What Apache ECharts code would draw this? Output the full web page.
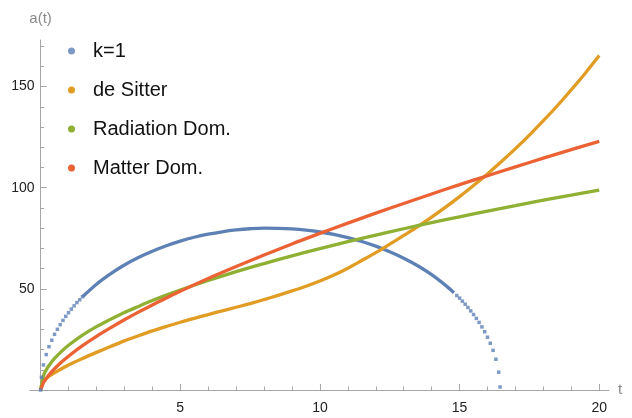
<!DOCTYPE html>
<html>
<head>
<meta charset="utf-8">
<script src="https://cdn.jsdelivr.net/npm/echarts@6/dist/echarts.min.js"></script>
<style>
html, body { margin: 0; padding: 0; background: #fff; }
#chart { width: 632px; height: 418px; }
</style>
</head>
<body>
<div id="chart"></div>
<script>
// k=1 : the steep ends show as separate dots, the flat top as a line
const closedStart = [[0, 0], [0.03, 6.3], [0.1, 12.4], [0.2, 17.5], [0.3, 21.4], [0.4, 24.6], [0.5, 27.5],
  [0.6, 30.0], [0.7, 32.3], [0.8, 34.4], [0.9, 36.4], [1.0, 38.2], [1.1, 40.0], [1.2, 41.6],
  [1.3, 43.2], [1.4, 44.6], [1.5, 46.1]];
const closedMid = [[1.5, 46.1], [2, 52.3], [2.5, 57.4], [3, 61.8], [3.5, 65.5], [4, 68.6], [4.5, 71.3],
  [5, 73.6], [5.5, 75.5], [6, 77.0], [6.5, 78.2], [7, 79.1], [7.5, 79.7], [8, 80.0], [8.5, 79.9],
  [9, 79.6], [9.5, 79.0], [10, 78.1], [10.5, 76.9], [11, 75.3], [11.5, 73.4], [12, 71.1],
  [12.5, 68.3], [13, 65.1], [13.5, 61.4], [14, 57.0], [14.5, 51.7], [14.8, 48.1]];
const closedEnd = [[14.9, 46.7], [15.0, 45.4], [15.1, 43.9], [15.2, 42.4], [15.3, 40.8], [15.4, 39.1],
  [15.5, 37.3], [15.6, 35.4], [15.7, 33.4], [15.8, 31.2], [15.9, 28.8], [16.0, 26.1],
  [16.1, 23.1], [16.2, 19.6], [16.3, 15.2], [16.4, 8.8], [16.45, 1.5]];
const deSitter = [[0, 0], [0.1, 4.0], [0.2, 5.6], [0.3, 6.8], [0.5, 8.5], [0.75, 10.5], [1, 12.4],
  [1.5, 15.6], [2, 18.6], [2.5, 21.5], [3, 24.3], [3.5, 26.8], [4, 29.2], [4.5, 31.4], [5, 33.5],
  [5.5, 35.4], [6, 37.3], [6.5, 39.1], [7, 40.9], [7.5, 42.7], [8, 44.7], [8.5, 46.8], [9, 49.0],
  [9.5, 51.3], [10, 53.9], [10.5, 56.8], [11, 60.2], [11.5, 64.0], [12, 67.9], [12.5, 72.1],
  [13, 76.4], [13.5, 80.8], [14, 85.5], [14.5, 90.4], [15, 95.6], [15.5, 101.1], [16, 106.8],
  [16.5, 112.9], [17, 119.3], [17.5, 126.0], [18, 133.1], [18.5, 140.5], [19, 148.4],
  [19.5, 156.6], [20, 165.3]];
const radiation = [[0, 0], [0.1, 7.0], [0.2, 9.9], [0.3, 12.1], [0.5, 15.6], [0.75, 19.1], [1, 22.1],
  [1.5, 27.1], [2, 31.3], [2.5, 34.9], [3, 38.3], [3.5, 41.3], [4, 44.2], [4.5, 46.9], [5, 49.4],
  [6, 54.1], [7, 58.5], [8, 62.5], [9, 66.3], [10, 69.9], [11, 73.3], [12, 76.6], [13, 79.7],
  [14, 82.7], [15, 85.6], [16, 88.4], [17, 91.1], [18, 93.8], [19, 96.3], [20, 98.8]];
const matter = [[0, 0], [0.1, 3.6], [0.2, 5.7], [0.3, 7.5], [0.5, 10.5], [0.75, 13.8], [1, 16.7],
  [1.5, 21.9], [2, 26.5], [2.5, 30.7], [3, 34.7], [3.5, 38.5], [4, 42.0], [4.5, 45.5], [5, 48.8],
  [6, 55.1], [7, 61.0], [8, 66.7], [9, 72.2], [10, 77.4], [11, 82.5], [12, 87.4], [13, 92.2],
  [14, 96.9], [15, 101.5], [16, 105.9], [17, 110.3], [18, 114.6], [19, 118.8], [20, 122.9]];

const xMajor = [5, 10, 15, 20];
const xMinor = [1, 2, 3, 4, 6, 7, 8, 9, 11, 12, 13, 14, 16, 17, 18, 19];
const yMajor = [50, 100, 150];
const yMinor = [10, 20, 30, 40, 60, 70, 80, 90, 110, 120, 130, 140, 160, 170];

const BLUE = "#5E81B5", ORANGE = "#E19C24", GREEN = "#8FB032", RED = "#EB6235";
const FONT = "Liberation Sans";
const AXIS = "#a6a6a6";

let myChart = echarts.init(document.getElementById("chart"));

function xAx(ticks, len, main) {
  return {
    type: "value", min: -0.38, max: 20.35, position: "bottom",
    axisLine: { show: main, onZero: false, lineStyle: { color: AXIS, width: 1 } },
    axisTick: { show: true, inside: true, length: len, customValues: ticks, lineStyle: { color: AXIS } },
    axisLabel: { show: main, customValues: ticks, margin: 11, color: "#222", fontSize: 14, fontFamily: FONT },
    splitLine: { show: false },
    name: main ? "t" : "", nameLocation: "end", nameGap: 9,
    nameTextStyle: { color: "#8a8a8a", fontSize: 15, fontFamily: FONT, verticalAlign: "middle" }
  };
}
// y axis sits at t = 0, i.e. 10.6px right of the grid edge (x starts at -0.38)
function yAx(ticks, len, main) {
  return {
    type: "value", min: 0, max: 173, position: "left", offset: -10.6,
    axisLine: { show: main, onZero: false, lineStyle: { color: AXIS, width: 1 } },
    axisTick: { show: true, inside: true, length: len, customValues: ticks, lineStyle: { color: AXIS } },
    axisLabel: { show: main, customValues: ticks, margin: 6, color: "#222", fontSize: 14, fontFamily: FONT },
    splitLine: { show: false },
    name: main ? "a(t)" : "", nameLocation: "end", nameGap: 14,
    nameTextStyle: { color: "#8a8a8a", fontSize: 15, fontFamily: FONT }
  };
}

function curve(name, color, data) {
  return {
    name: name, type: "line", color: color, symbol: "none", smooth: 0.35,
    lineStyle: { width: 3.3 }, data: data, z: 3
  };
}

let option = {
  animation: false,
  backgroundColor: "#fff",
  grid: { left: 30, right: 23, top: 40, bottom: 28, containLabel: false },
  xAxis: [xAx(xMajor, 6, true), xAx(xMinor, 3.5, false)],
  yAxis: [yAx(yMajor, 6, true), yAx(yMinor, 3.5, false)],
  legend: {
    orient: "vertical", left: 68, top: 41, padding: 0,
    itemWidth: 7, itemHeight: 7, itemGap: 19,
    textStyle: { color: "#111", fontSize: 20, fontFamily: FONT, lineHeight: 20, padding: [0, 0, 0, 13] },
    data: [
      { name: "k=1", icon: "circle" },
      { name: "de Sitter", icon: "circle" },
      { name: "Radiation Dom.", icon: "circle" },
      { name: "Matter Dom.", icon: "circle" }
    ]
  },
  series: [
    {
      name: "k=1", type: "scatter", color: BLUE, symbol: "rect", symbolSize: 3.5,
      data: closedStart.concat(closedEnd), z: 3
    },
    curve("k=1", BLUE, closedMid),
    curve("de Sitter", ORANGE, deSitter),
    curve("Radiation Dom.", GREEN, radiation),
    curve("Matter Dom.", RED, matter)
  ]
};
myChart.setOption(option);
</script>
</body>
</html>
